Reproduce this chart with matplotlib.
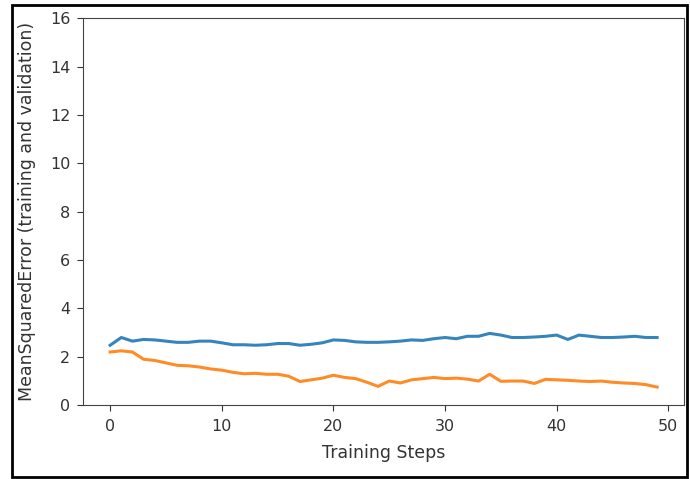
import matplotlib
matplotlib.use("Agg")
import matplotlib.pyplot as plt
from matplotlib.patches import Rectangle

steps = list(range(50))
train_mse = [2.48, 2.8, 2.65, 2.72, 2.7, 2.65, 2.6, 2.6, 2.65, 2.65,
             2.58, 2.5, 2.5, 2.48, 2.5, 2.55, 2.55, 2.48, 2.52, 2.58,
             2.7, 2.68, 2.62, 2.6, 2.6, 2.62, 2.65, 2.7, 2.68, 2.75,
             2.8, 2.75, 2.85, 2.85, 2.97, 2.9, 2.8, 2.8, 2.82, 2.85,
             2.9, 2.72, 2.9, 2.85, 2.8, 2.8, 2.82, 2.85, 2.8, 2.8]
val_mse = [2.2, 2.25, 2.2, 1.9, 1.85, 1.75, 1.65, 1.63, 1.58, 1.5,
           1.45, 1.36, 1.3, 1.32, 1.28, 1.28, 1.2, 0.98, 1.05, 1.12,
           1.24, 1.15, 1.1, 0.95, 0.78, 1.0, 0.92, 1.05, 1.1, 1.15,
           1.1, 1.12, 1.08, 1.0, 1.28, 0.99, 1.0, 1.0, 0.9, 1.07,
           1.05, 1.03, 1.0, 0.98, 1.0, 0.95, 0.92, 0.9, 0.85, 0.75]

fig = plt.figure(figsize=(6.9, 4.79), dpi=100)
ax = fig.add_axes([0.120, 0.154, 0.872, 0.808])
ax.plot(steps, train_mse, color="tab:blue", linewidth=2.2, alpha=0.9)
ax.plot(steps, val_mse, color="tab:orange", linewidth=2.2, alpha=0.9)
ax.set_ylim(0, 16)
ax.set_xlabel("Training Steps", color="#333333", fontsize=12.5, labelpad=7)
ax.set_ylabel("MeanSquaredError (training and validation)", color="#333333",
              fontsize=12.5, labelpad=10)
ax.tick_params(colors="#333333", labelsize=11.5, length=4)
ax.tick_params(axis="x", pad=6)
ax.tick_params(axis="y", pad=5)
for s in ax.spines.values():
    s.set_color("#444444")

# black frame around the whole screenshot
fig.patches.append(Rectangle((0.017, 0.004), 0.979, 0.985, transform=fig.transFigure,
                             fill=False, edgecolor="black", linewidth=2))

fig.savefig("out.png", dpi=100)
